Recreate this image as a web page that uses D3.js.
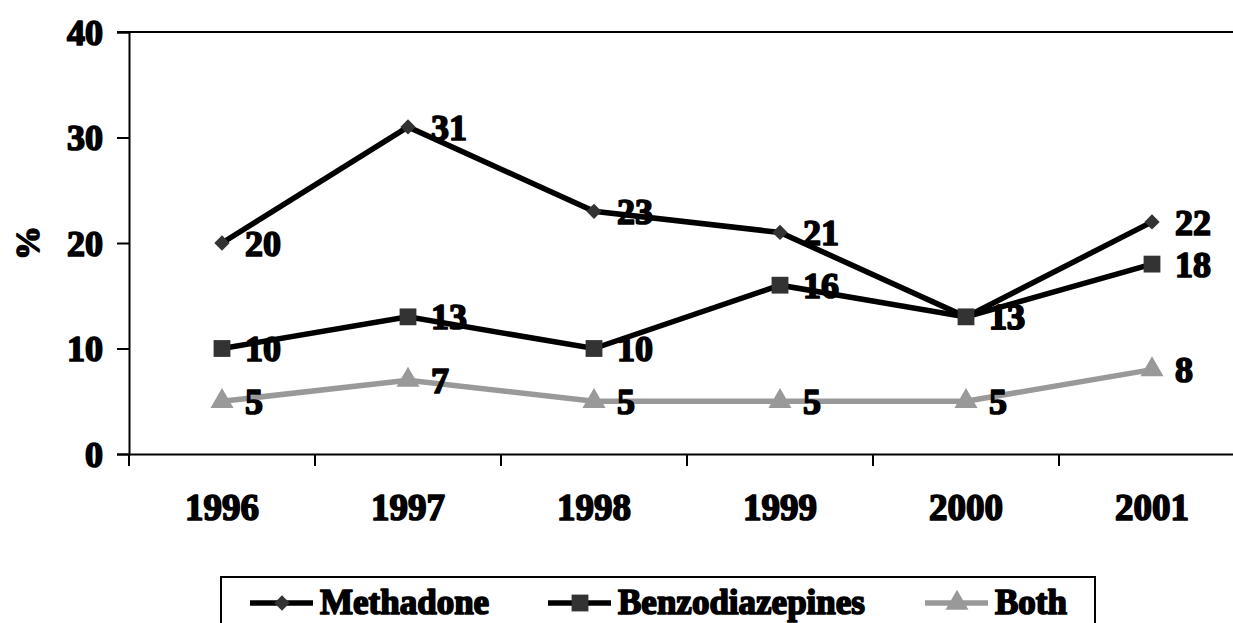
<!DOCTYPE html>
<html>
<head>
<meta charset="utf-8">
<script src="https://cdn.jsdelivr.net/npm/d3@7"></script>
<style>
  body { margin: 0; background: #fff; }
  text { font-family: "Liberation Serif", "Times New Roman", serif; font-weight: bold; fill: #000; stroke: #000; stroke-width: 1.7px; stroke-linejoin: round; }
</style>
</head>
<body>
<div id="chart"></div>
<script>
// data
const years = ["1996", "1997", "1998", "1999", "2000", "2001"];
const methadone = [20, 31, 23, 21, 13, 22];
const benzodiazepines = [10, 13, 10, 16, 13, 18];
const both = [5, 7, 5, 5, 5, 8];
const y_ticks = [0, 10, 20, 30, 40];
const series_names = ["Methadone", "Benzodiazepines", "Both"];

const complete_width = 1233,
    complete_height = 623;

const svg = d3.select("#chart")
    .append("svg")
    .attr("width", complete_width)
    .attr("height", complete_height);

// scales
const x = d3.scaleBand()
    .domain(years)
    .range([129, 1245]);
const y = d3.scaleLinear()
    .domain([0, 40])
    .range([454, 32]);

// top border line at 40
svg.append("line")
    .attr("x1", 117).attr("x2", 1245)
    .attr("y1", y(40)).attr("y2", y(40))
    .attr("stroke", "#000").attr("stroke-width", 2);

// y axis
const y_axis = d3.axisLeft(y).tickValues(y_ticks).tickSize(12).tickPadding(14);
svg.append("g")
    .attr("transform", "translate(129,0)")
    .call(y_axis)
    .call(g => g.selectAll("path, line").attr("stroke", "#000").attr("stroke-width", 2))
    .call(g => g.selectAll("text").attr("font-size", 36).attr("dy", "0.34em").attr("fill", "#000"));

// x axis
const x_axis = d3.axisBottom(x).tickSize(0).tickPadding(0);
const xg = svg.append("g")
    .attr("transform", `translate(0,${y(0)})`)
    .call(x_axis)
    .call(g => g.select("path").attr("stroke", "#000").attr("stroke-width", 2))
    .call(g => g.selectAll("text").attr("font-size", 37).attr("y", 66).attr("dy", 0).attr("fill", "#000"));
// tick marks between categories
const edges = years.map(d => x(d)).concat([x.range()[1]]);
xg.selectAll(".edge")
    .data(edges)
    .join("line")
    .attr("class", "edge")
    .attr("x1", d => d).attr("x2", d => d)
    .attr("y1", 0).attr("y2", 12)
    .attr("stroke", "#000").attr("stroke-width", 2);

// y title
svg.append("text")
    .attr("transform", "translate(39,243) rotate(-90)")
    .attr("text-anchor", "middle")
    .attr("font-size", 34)
    .text("%");

// series
const series = [
    { name: series_names[0], values: methadone, color: "#000", marker: "#333", symbol: d3.symbolDiamond2, size: 150 },
    { name: series_names[1], values: benzodiazepines, color: "#000", marker: "#333", symbol: d3.symbolSquare2, size: 360 },
    { name: series_names[2], values: both, color: "#999", marker: "#999", symbol: d3.symbolTriangle, size: 230 }
];

const cx = d => x(d) + x.bandwidth() / 2;
const line = d3.line()
    .x((d, i) => cx(years[i]))
    .y(d => y(d));

// draw lines back to front
[2, 1, 0].forEach(k => {
    const s = series[k];
    svg.append("path")
        .datum(s.values)
        .attr("d", line)
        .attr("fill", "none")
        .attr("stroke", s.color)
        .attr("stroke-width", 5.5);
});

series.forEach(s => {
    const sym = d3.symbol().type(s.symbol).size(s.size);
    svg.append("g")
        .selectAll("path")
        .data(s.values)
        .join("path")
        .attr("d", sym)
        .attr("transform", (d, i) => `translate(${cx(years[i])},${y(d)})`)
        .attr("fill", s.marker);
    svg.append("g")
        .selectAll("text")
        .data(s.values)
        .join("text")
        .attr("x", (d, i) => cx(years[i]) + 23)
        .attr("y", d => y(d))
        .attr("dy", "0.35em")
        .attr("font-size", 36)
        .text(d => d);
});

// legend
const legend = svg.append("g");
legend.append("rect")
    .attr("x", 221).attr("y", 577)
    .attr("width", 874).attr("height", 60)
    .attr("fill", "#fff")
    .attr("stroke", "#000").attr("stroke-width", 2);

const legend_x = [250, 548, 925];
series.forEach((s, i) => {
    const g = legend.append("g").attr("transform", `translate(${legend_x[i]},603)`);
    g.append("line")
        .attr("x1", 0).attr("x2", 63)
        .attr("y1", 0).attr("y2", 0)
        .attr("stroke", s.color).attr("stroke-width", 5.5);
    g.append("path")
        .attr("d", d3.symbol().type(s.symbol).size(s.size)())
        .attr("transform", "translate(32,0)")
        .attr("fill", s.marker);
    g.append("text")
        .attr("x", 70)
        .attr("y", 11)
        .attr("font-size", 35)
        .text(s.name);
});
</script>
</body>
</html>
